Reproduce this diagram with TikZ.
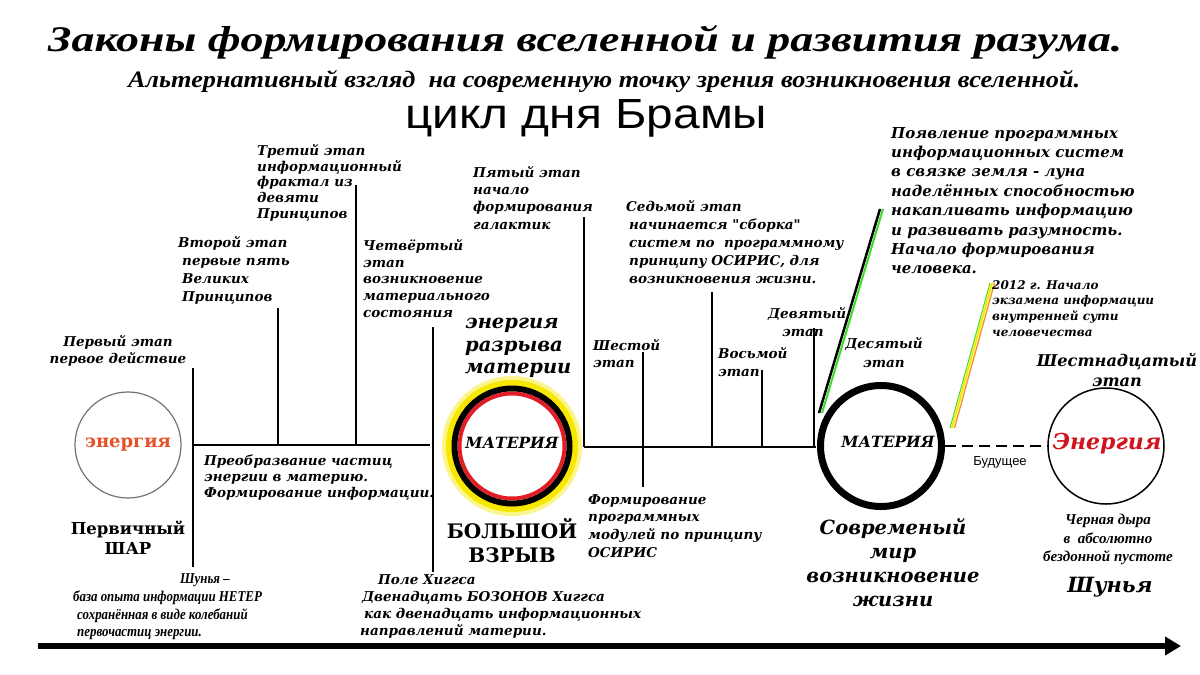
\documentclass[tikz,border=0pt]{standalone}
\usepackage{fontspec}
\setmainfont{DejaVu Serif}
\newfontfamily\dser{DejaVu Serif}
\newfontfamily\lser{Liberation Serif}
\newfontfamily\lsercond[FakeStretch=0.86]{Liberation Serif}
\newfontfamily\lsans{Liberation Sans}
\usetikzlibrary{arrows.meta}
\definecolor{enorange}{RGB}{228,82,40}
\definecolor{enred}{RGB}{210,18,28}
\definecolor{glow}{RGB}{246,232,0}
\definecolor{bbred}{RGB}{225,30,40}
\definecolor{lgreen}{RGB}{60,220,40}
\definecolor{lorange}{RGB}{240,150,30}
\begin{document}
\begin{tikzpicture}[x=1pt,y=-1pt,
  stg/.style={font=\dser\bfseries\itshape\fontsize{13.5}{#1}\selectfont, inner sep=0pt, align=left, anchor=north west},
  stg/.default=17,
  big/.style={font=\dser\bfseries\itshape\fontsize{19.5}{#1}\selectfont, inner sep=0pt, align=left, anchor=north west},
  big/.default=23,
  upb/.style={font=\dser\bfseries\fontsize{#1}{1.2\dimexpr#1pt\relax}\selectfont, inner sep=0pt, align=center, anchor=north},
  cond/.style={font=\lser\bfseries\itshape\fontsize{15}{#1}\selectfont, inner sep=0pt, align=left, anchor=north west},
  cond/.default=17.5,
  stem/.style={line width=2pt},
  axis/.style={line width=2.5pt},
]
\useasboundingbox (0,0) rectangle (1200,675);
\fill[white] (0,0) rectangle (1200,675);

% ---- titles
\node[inner sep=0pt, anchor=base west] (title) at (48,51)
  {\resizebox{1074pt}{26pt}{\lser\bfseries\itshape Законы формирования вселенной и развития разума.}};
\node[inner sep=0pt, anchor=base west] (subtitle) at (128,87)
  {\resizebox{952pt}{17pt}{\lser\bfseries\itshape Альтернативный взгляд\ \ на современную точку зрения возникновения вселенной.}};
\node[inner sep=0pt, anchor=base west] (cycle) at (405,128)
  {\resizebox{362pt}{29pt}{\lsans цикл дня Брамы}};

% ---- circles
\node[circle, draw=black!55, line width=1.2pt, minimum size=106pt, inner sep=0pt] (c1) at (128,445) {};
\node[font=\dser\bfseries\fontsize{18}{20}\selectfont, text=enorange, inner sep=0pt] (e1) at (c1) {энергия};

\node[circle, fill=glow!45, minimum size=140pt, inner sep=0pt] (bbglow) at (512,446) {};
\node[circle, fill=glow, minimum size=132pt, inner sep=0pt] (bb) at (512,446) {};
\node[circle, draw=black, line width=6pt, fill=white, minimum size=115pt, inner sep=0pt] (bbring) at (bb) {};
\node[circle, draw=bbred, line width=4pt, minimum size=105pt, inner sep=0pt] (bbred) at (bb) {};
\node[font=\dser\bfseries\itshape\fontsize{15.5}{18}\selectfont, inner sep=0pt] (m1) at (512,443) {МАТЕРИЯ};

\node[circle, draw=black, line width=7pt, minimum size=121pt, inner sep=0pt] (c2) at (881,446) {};
\node[font=\dser\bfseries\itshape\fontsize{15.5}{18}\selectfont, inner sep=0pt] (m2) at (888,442) {МАТЕРИЯ};

\node[circle, draw=black, line width=1.5pt, minimum size=116pt, inner sep=0pt] (c3) at (1106,446) {};
\node[font=\dser\bfseries\itshape\fontsize{22}{24}\selectfont, text=enred, inner sep=0pt] (e3) at (1107,444) {Энергия};

% ---- timeline skeleton
\coordinate (a1t) at (193,368); \coordinate (a1b) at (193,567); \coordinate (a1m) at (193,445);
\coordinate (h1e) at (430,445);
\coordinate (a2t) at (278,308); \coordinate (a2b) at (278,445);
\coordinate (a3t) at (356,185); \coordinate (a3b) at (356,445);
\coordinate (a4t) at (433,327); \coordinate (a4b) at (433,572);
\coordinate (a5t) at (584,217); \coordinate (a5b) at (584,447);
\coordinate (h2e) at (816,447);
\coordinate (a6t) at (643,352); \coordinate (a6b) at (643,487);
\coordinate (a7t) at (712,292); \coordinate (a7b) at (712,447);
\coordinate (a8t) at (762,370); \coordinate (a8b) at (762,447);
\coordinate (a9t) at (814,328); \coordinate (a9b) at (814,447);

\draw[stem] (a1t) -- (a1b);
\draw[axis] (a1m) -- (h1e);
\draw[stem] (a2t) -- (a2b);
\draw[stem] (a3t) -- (a3b);
\draw[stem] (a4t) -- (a4b);
\draw[stem] (a5t) -- (a5b);
\draw[axis] (a5b) -- (h2e);
\draw[stem] (a6t) -- (a6b);
\draw[stem] (a7t) -- (a7b);
\draw[stem] (a8t) -- (a8b);
\draw[stem] (a9t) -- (a9b);

% green line
\coordinate (g1) at (819,413); \coordinate (g2) at (880,209);
\coordinate (g1r) at (822,413); \coordinate (g2r) at (883,209);
\draw[line width=2.5pt] (g1) -- (g2);
\draw[lgreen, line width=2pt] (g1r) -- (g2r);

% yellow line
\coordinate (y1) at (952,428); \coordinate (y2) at (992,283);
\coordinate (y1l) at (950,428); \coordinate (y2l) at (990,283);
\coordinate (y1r) at (954.5,428); \coordinate (y2r) at (994.5,283);
\draw[lgreen, line width=1pt] (y1l) -- (y2l);
\draw[glow, line width=2pt] (y1) -- (y2);
\draw[lorange, line width=1.3pt] (y1r) -- (y2r);

% dashed future
\draw[line width=2.5pt, dash pattern=on 11pt off 6pt] (c2.east) -- (c3.west);
\node[font=\lsans\fontsize{13}{15}\selectfont, inner sep=0pt] (fut) at (1000,462) {Будущее};

% bottom arrow
\coordinate (ar1) at (38,646); \coordinate (ar2) at (1181,646);
\draw[line width=6pt, -{Triangle[length=16pt,width=18pt]}] (ar1) -- (ar2);

% ---- stage texts
\node[stg=17.5, align=center, anchor=north] (s1) at (118,335) {Первый этап\\первое действие};
\node[stg=18] (s2) at (178,236) {Второй этап\\\hspace*{4pt}первые пять\\\hspace*{4pt}Великих\\\hspace*{4pt}Принципов};
\node[stg=15.8] (s3) at (257,144) {Третий этап\\информационный\\фрактал из\\девяти\\Принципов};
\node[stg=16.8] (s4) at (363,239) {Четвёртый\\этап\\возникновение\\материального\\состояния};
\node[stg=16] (conv) at (204,455) {Преобразвание частиц\\энергии в материю.\\Формирование информации.};
\node[stg=17.3] (s5) at (473,166) {Пятый этап\\начало\\формирования\\галактик};
\node[stg=17] (s6) at (593,339) {Шестой\\этап};
\node[stg=17.7] (mods) at (588,494) {Формирование\\программных\\модулей по принципу\\ОСИРИС};
\node[stg=18] (s7) at (626,200) {Седьмой этап\\\hspace*{3pt}начинается "сборка"\\\hspace*{3pt}систем по\ \ программному\\\hspace*{3pt}принципу ОСИРИС, для\\\hspace*{3pt}возникновения жизни.};
\node[stg=18] (s8) at (718,347) {Восьмой\\этап};
\node[stg=18] (s9) at (768,307) {Девятый\\\hspace*{14pt}этап};
\node[stg=19, align=center, anchor=north] (s10) at (884,337) {Десятый\\этап};
\node[font=\dser\bfseries\itshape\fontsize{15}{19.4}\selectfont, inner sep=0pt, align=left, anchor=north west] (prog) at (891,127)
  {Появление программных\\информационных систем\\в связке земля - луна\\наделённых способностью\\накапливать информацию\\и развивать разумность.\\Начало формирования\\человека.};
\node[font=\dser\bfseries\itshape\fontsize{12}{15.7}\selectfont, inner sep=0pt, align=left, anchor=north west] (y2012) at (992,280)
  {2012 г. Начало\\экзамена информации\\внутренней сути\\человечества};
\node[font=\dser\bfseries\itshape\fontsize{16.2}{20}\selectfont, inner sep=0pt, align=center, anchor=north] (s16) at (1117,353) {Шестнадцатый\\этап};
\node[cond=18.5, align=center, anchor=north] (hole) at (1108,514) {Черная дыра\\в\ \ абсолютно\\бездонной пустоте};
\node[font=\dser\bfseries\itshape\fontsize{21}{24}\selectfont, inner sep=0pt] (shr) at (1110,587) {Шунья};
\node[big=24, align=center, anchor=north] (modern) at (893,518) {Современый\\мир\\возникновение\\жизни};
\node[big=22.5] (brk) at (465,318) {энергия\\разрыва\\материи};
\node[upb=20] (bang) at (512,518) {БОЛЬШОЙ\\ВЗРЫВ};
\node[upb=16.5] (ball) at (128,521) {Первичный\\ШАР};
\node[font=\lsercond\bfseries\itshape\fontsize{15}{17.5}\selectfont, inner sep=0pt] (shl) at (205,580) {Шунья –};
\node[font=\lsercond\bfseries\itshape\fontsize{15}{17.5}\selectfont, inner sep=0pt, align=left, anchor=north west] (shtext) at (73,591) {база опыта информации НЕТЕР\\\hspace*{4pt}сохранённая в виде колебаний\\\hspace*{4pt}первочастиц энергии.};
\node[font=\dser\bfseries\itshape\fontsize{13.5}{17.3}\selectfont, inner sep=0pt, align=left, anchor=north west] (higgs) at (360,574)
  {\hspace*{18pt}Поле Хиггса\\\hspace*{2pt}Двенадцать БОЗОНОВ Хиггса\\\hspace*{4pt}как двенадцать информационных\\направлений материи.};
\end{tikzpicture}
\end{document}
